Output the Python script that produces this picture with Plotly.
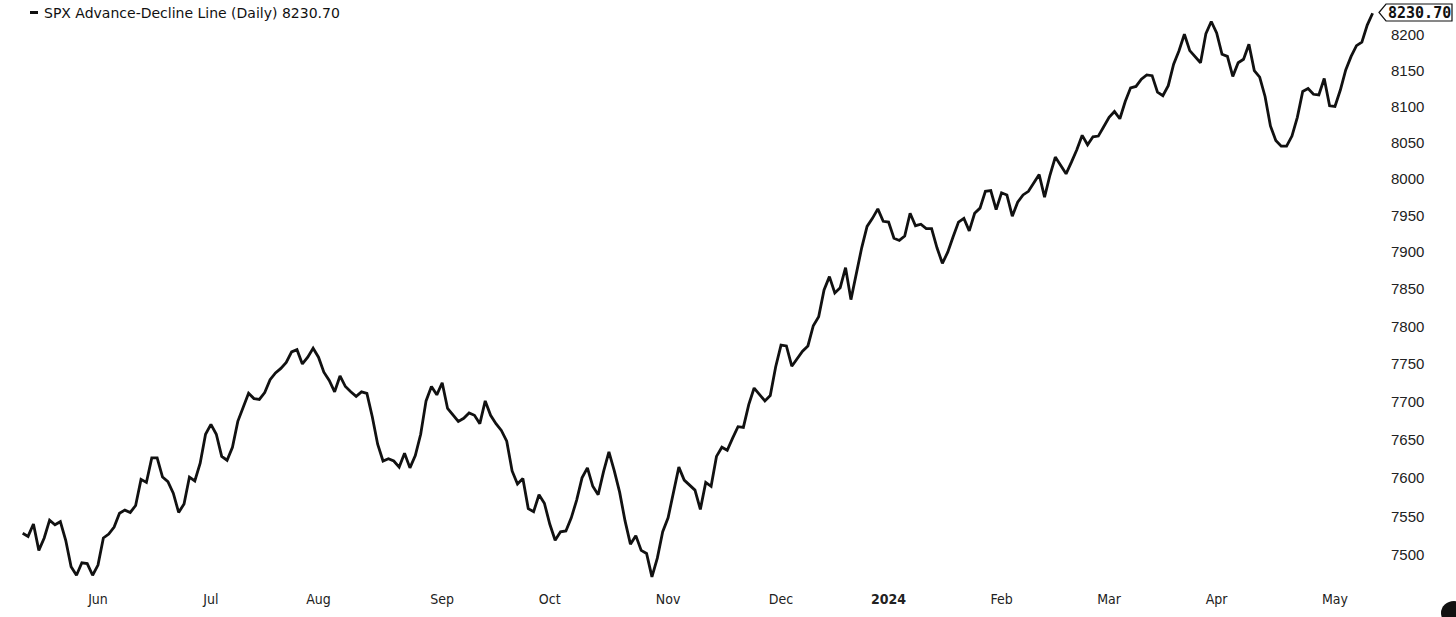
import math
import pandas as pd
import plotly.graph_objects as go

# ---- data -------------------------------------------------------------
SERIES_NAME = "SPX Advance-Decline Line (Daily)"
START_DATE = "2023-05-11"
END_DATE = "2024-05-10"
MARKET_HOLIDAYS = ["2023-05-29", "2023-06-19", "2023-07-04", "2023-09-04",
                   "2023-11-23", "2023-12-25", "2024-01-01", "2024-01-15",
                   "2024-02-19", "2024-03-29"]

ad_line = [
    7528, 7524, 7540, 7506, 7522, 7545, 7539, 7543, 7519, 7485, 7474, 7490, 7489, 7474,
    7487, 7522, 7527, 7536, 7554, 7558, 7555, 7564, 7598, 7594,
    7626, 7626, 7601, 7595, 7580, 7555, 7566, 7601, 7596, 7619,
    7657, 7670, 7657, 7628, 7623, 7640, 7674, 7692, 7711, 7704,
    7703, 7712, 7729, 7738, 7744, 7752, 7766, 7769, 7750, 7759,
    7771, 7759, 7739, 7728, 7713, 7734, 7720, 7713, 7707, 7713,
    7711, 7680, 7644, 7622, 7625, 7622, 7614, 7632, 7613, 7629,
    7657, 7701, 7720, 7709, 7725, 7691, 7683, 7674, 7678, 7685,
    7682, 7671, 7701, 7682, 7671, 7662, 7648, 7609, 7592, 7599,
    7560, 7556, 7578, 7567, 7540, 7519, 7530, 7531, 7548, 7571,
    7600, 7613, 7589, 7578, 7608, 7634, 7609, 7581, 7544, 7514,
    7525, 7506, 7502, 7472, 7496, 7530, 7548, 7580, 7614, 7597,
    7590, 7584, 7559, 7594, 7589, 7628, 7640, 7636, 7652, 7667,
    7666, 7696, 7718, 7709, 7701, 7708, 7746, 7775, 7774, 7747,
    7757, 7767, 7774, 7801, 7813, 7849, 7867, 7845, 7852, 7879,
    7836, 7873, 7906, 7935, 7946, 7959, 7942, 7941, 7919, 7916,
    7922, 7953, 7936, 7938, 7932, 7932, 7906, 7885, 7900, 7921,
    7941, 7946, 7929, 7953, 7960, 7983, 7984, 7958, 7981, 7978,
    7949, 7968, 7978, 7983, 7994, 8006, 7975, 8005, 8030, 8019,
    8007, 8023, 8040, 8060, 8047, 8058, 8059, 8072, 8085, 8093,
    8083, 8107, 8126, 8128, 8138, 8144, 8143, 8120, 8115, 8129,
    8159, 8178, 8201, 8178, 8169, 8161, 8202, 8219, 8203, 8173,
    8170, 8142, 8161, 8166, 8187, 8150, 8141, 8114, 8073, 8053,
    8045, 8045, 8059, 8085, 8121, 8125, 8117, 8116, 8139, 8101,
    8100, 8123, 8151, 8170, 8185, 8190, 8214, 8230.70,
]

month_labels = ["Jun", "Jul", "Aug", "Sep", "Oct", "Nov", "Dec",
                "<b>2024</b>", "Feb", "Mar", "Apr", "May"]
y_ticks = [7500, 7550, 7600, 7650, 7700, 7750, 7800, 7850, 7900,
           7950, 8000, 8050, 8100, 8150, 8200]
y_range = [7456.4, 8249.4]

# ---- build ------------------------------------------------------------
dates = pd.bdate_range(START_DATE, END_DATE, freq="C", holidays=MARKET_HOLIDAYS)
assert len(dates) == len(ad_line), (len(dates), len(ad_line))
date_str = [d.strftime("%Y-%m-%d") for d in dates]

# first trading day of every month after the first one
month_starts = []
prev = None
for d in dates:
    key = (d.year, d.month)
    if prev is not None and key != prev:
        month_starts.append(d.strftime("%Y-%m-%d"))
    prev = key

last_val = ad_line[-1]

fig = go.Figure()
fig.add_trace(go.Scatter(
    x=date_str, y=ad_line, mode="lines",
    line=dict(color="#111111", width=2.8),
    name=SERIES_NAME, showlegend=False,
))

W, H = 1456, 617
ML, MR, MT, MB = 0, 78, 0, 28
PW, PH = W - ML - MR, H - MT - MB


def px(xp):
    return xp / PW


def py(yp):
    return 1 - yp / PH


fig.update_layout(
    width=W, height=H,
    margin=dict(l=ML, r=MR, t=MT, b=MB, autoexpand=False),
    paper_bgcolor="white", plot_bgcolor="white",
    font=dict(family="Liberation Sans, Arial, sans-serif", color="#222222"),
    xaxis=dict(
        type="category",
        range=[-4.22, 252.0],
        tickmode="array", tickvals=month_starts, ticktext=month_labels,
        showgrid=False, zeroline=False, showline=False,
        ticks="", automargin=False,
        tickfont=dict(family="DejaVu Sans Condensed, DejaVu Sans, sans-serif",
                      size=14, color="#222222"),
    ),
    yaxis=dict(
        type="log", side="right",
        range=[math.log10(y_range[0]), math.log10(y_range[1])],
        tickmode="array", tickvals=y_ticks, ticktext=[str(v) for v in y_ticks],
        showgrid=False, zeroline=False, showline=False, automargin=False,
        ticks="outside", ticklen=9, tickcolor="rgba(0,0,0,0)",
        tickfont=dict(family="Liberation Sans, Arial, sans-serif",
                      size=15, color="#222222"),
    ),
)

# legend-like title at top left
fig.add_shape(type="line", xref="paper", yref="paper",
              x0=px(30), x1=px(38), y0=py(12.5), y1=py(12.5),
              line=dict(color="#111111", width=3))
fig.add_annotation(xref="paper", yref="paper", x=px(42), y=py(12.5),
                   xanchor="left", yanchor="middle", showarrow=False,
                   text=f"{SERIES_NAME} {last_val:.2f}",
                   font=dict(family="DejaVu Sans, sans-serif", size=14,
                             color="#111111"))

# last value tag on the price axis
fig.add_shape(type="path", xref="paper", yref="paper",
              path=(f"M {px(1379)} {py(12.5)} L {px(1386)} {py(4)} "
                    f"L {px(1452)} {py(4)} L {px(1452)} {py(21)} "
                    f"L {px(1386)} {py(21)} Z"),
              fillcolor="white", line=dict(color="#111111", width=1.2))
fig.add_annotation(xref="paper", yref="y", x=px(1419), y=math.log10(last_val),
                   xanchor="center", yanchor="middle", showarrow=False,
                   text=f"<b>{last_val:.2f}</b>",
                   font=dict(family="DejaVu Sans Mono, monospace", size=15,
                             color="#111111"))

# dark round blob at the very bottom-right corner of the screenshot
fig.add_shape(type="circle", xref="paper", yref="paper",
              x0=px(1441), x1=px(1467), y0=py(625), y1=py(601),
              fillcolor="#111111", line=dict(width=0))

fig.write_html("out.html",
               config={"displayModeBar": False},
               post_script="document.body.style.margin='0';"
                           "document.body.style.overflow='hidden';")
